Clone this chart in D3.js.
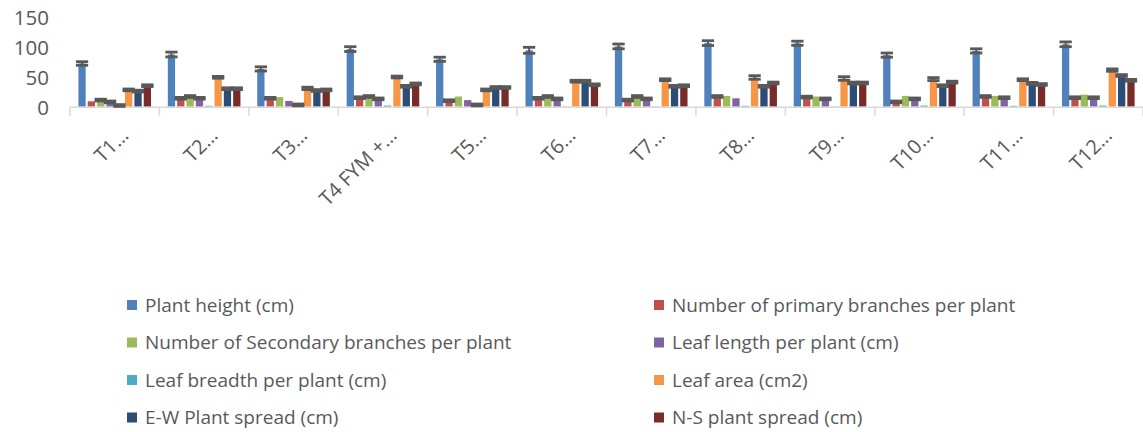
<!DOCTYPE html>
<html>
<head>
<meta charset="utf-8">
<script src="https://cdn.jsdelivr.net/npm/d3@7"></script>
<style>
  html, body { margin: 0; padding: 0; background: #ffffff; }
  svg { display: block; font-family: "Open Sans", "Liberation Sans", sans-serif; }
</style>
</head>
<body>
<svg id="chart" width="1143" height="432"></svg>
<script>
// ---- data ----
const categories = ["T1…", "T2…", "T3…", "T4 FYM +…", "T5…", "T6…", "T7…", "T8…", "T9…", "T10…", "T11…", "T12…"];
const seriesNames = [
  "Plant height (cm)",
  "Number of primary branches per plant",
  "Number of Secondary branches per plant",
  "Leaf length per plant (cm)",
  "Leaf breadth per plant (cm)",
  "Leaf area (cm2)",
  "E-W Plant spread (cm)",
  "N-S plant spread (cm)"
];
const plantHeight      = [72, 87, 63, 96, 79, 94, 100.5, 106, 105.7, 86, 93, 104];
const primaryBranches  = [9, 14, 14, 15, 10, 14, 11, 17, 16, 8, 17, 15];
const secondaryBranches= [11, 17, 16, 17, 17, 17, 17, 18, 17, 18, 18, 20];
const leafLength       = [8, 14, 9.5, 13, 11, 13, 13, 14, 13, 13, 15, 15];
const leafBreadth      = [2, 1.5, 3, 2, 3, 0.5, 0.5, 1.5, 0.5, 2, 1.5, 2];
const leafArea         = [28, 49, 30.5, 49.5, 28, 42.5, 45, 48.7, 47, 46, 45, 61];
const ewSpread         = [26, 30, 27, 34, 32, 42.5, 34, 34, 39.5, 35, 39, 52];
const nsSpread         = [35, 30, 28, 38, 32, 36.5, 35, 39.5, 39.5, 41, 37, 44];

const errPlantHeight   = [3, 4, 3.5, 4, 3.5, 5, 4, 4, 3.5, 3.5, 3.5, 4];
const errPrimary       = [0, 1.5, 1.5, 1.5, 1.5, 1.5, 1.5, 1.5, 1.5, 1.5, 1.5, 1.5];
const errSecondary     = [1.5, 1.5, 0, 1.5, 0, 1.5, 1.5, 0, 0, 0, 0, 0];
const errLeafLength    = [1.5, 1.5, 0, 1.5, 0, 1.5, 1.5, 0, 1.5, 1.5, 1.5, 1.5];
const errLeafBreadth   = [1.5, 0, 1.5, 0, 1.5, 0, 0, 0, 0, 0, 0, 0];
const errLeafArea      = [1.5, 1.5, 2, 1.5, 1.5, 1.5, 1.5, 3, 3, 2.5, 1.5, 2];
const errEW            = [1.5, 1.5, 1.5, 1.5, 1.5, 1.5, 1.5, 1.5, 1.5, 1.5, 1.5, 1.5];
const errNS            = [1.5, 1.5, 1.5, 1.5, 1.5, 1.5, 1.5, 1.5, 1.5, 1.5, 1.5, 1.5];

const yTicks = [0, 50, 100, 150];

const colors = ["#4F81BD", "#C0504D", "#9BBB59", "#8064A2", "#4BACC6", "#F79646", "#2C4D75", "#772C2A"];

const values = [plantHeight, primaryBranches, secondaryBranches, leafLength, leafBreadth, leafArea, ewSpread, nsSpread];
const errors = [errPlantHeight, errPrimary, errSecondary, errLeafLength, errLeafBreadth, errLeafArea, errEW, errNS];

// ---- layout ----
const svg = d3.select("#chart");
const plot = { left: 70, right: 1143, top: 16.7, bottom: 106.7 };

const x0 = d3.scaleBand().domain(categories).range([plot.left, plot.right]).padding(0);
const x1 = d3.scaleBand().domain(d3.range(seriesNames.length))
  .range([0, x0.bandwidth()]).paddingInner(0.22).paddingOuter(0.9);
const y = d3.scaleLinear().domain([0, 150]).range([plot.bottom, plot.top]);

const textColor = "#595959";

// y axis labels (no line)
const yAxis = d3.axisLeft(y).tickValues(yTicks).tickSize(0).tickPadding(0);
const gy = svg.append("g").attr("transform", `translate(49,0)`).call(yAxis);
gy.select(".domain").remove();
gy.selectAll("text").attr("fill", textColor).style("font-size", "20.5px")
  .style("font-family", "'Open Sans', sans-serif").attr("dy", "0.36em");

// bars
const data = [];
categories.forEach((c, ci) => {
  values.forEach((arr, si) => {
    data.push({ c, si, v: arr[ci], e: errors[si][ci] });
  });
});

const gBars = svg.append("g");
gBars.selectAll("rect").data(data).enter().append("rect")
  .attr("x", d => x0(d.c) + x1(d.si))
  .attr("y", d => y(d.v))
  .attr("width", x1.bandwidth())
  .attr("height", d => y(0) - y(d.v))
  .attr("fill", d => colors[d.si]);

// x axis
const xAxis = d3.axisBottom(x0).tickSize(0).tickFormat("");
const gx = svg.append("g").attr("transform", `translate(0,${plot.bottom})`).call(xAxis);
gx.select(".domain").attr("stroke", "#d9d9d9").attr("stroke-width", 1.5);
// category boundary tick marks
const bounds = categories.map(c => x0(c)).concat([x0(categories[categories.length - 1]) + x0.bandwidth()]);
gx.selectAll("line.bnd").data(bounds).enter().append("line").attr("class", "bnd")
  .attr("x1", d => d).attr("x2", d => d).attr("y1", 0).attr("y2", 9)
  .attr("stroke", "#d9d9d9").attr("stroke-width", 1.5);

// error bars
const gErr = svg.append("g");
const errData = data.filter(d => d.e > 0);
const capHalf = x1.bandwidth() / 2 + 2.5;
errData.forEach(d => {
  const cx = x0(d.c) + x1(d.si) + x1.bandwidth() / 2;
  const yTop = y(d.v + d.e), yBot = y(d.v - d.e);
  gErr.append("line").attr("x1", cx).attr("x2", cx).attr("y1", yTop).attr("y2", yBot)
    .attr("stroke", "#595959").attr("stroke-width", 2);
  [yTop, yBot].forEach(yy => {
    gErr.append("line").attr("x1", cx - capHalf).attr("x2", cx + capHalf)
      .attr("y1", yy).attr("y2", yy).attr("stroke", "#595959").attr("stroke-width", 2.8);
  });
});

// category labels rotated -45
svg.append("g").selectAll("text").data(categories).enter().append("text")
  .attr("transform", d => `translate(${x0(d) + x0.bandwidth() / 2 + 15},${plot.bottom + 30}) rotate(-45)`)
  .attr("text-anchor", "end")
  .attr("fill", textColor)
  .style("font-size", "20px")
  .text(d => d);

// legend
const legend = svg.append("g");
const legCols = [127, 654];
const legRow0 = 305, legRowStep = 37.5;
seriesNames.forEach((name, i) => {
  const col = i % 2, row = Math.floor(i / 2);
  const lx = legCols[col], ly = legRow0 + row * legRowStep;
  legend.append("rect").attr("x", lx).attr("y", ly - 5).attr("width", 10).attr("height", 10)
    .attr("fill", colors[i]);
  legend.append("text").attr("x", lx + 18).attr("y", ly).attr("dy", "0.35em")
    .attr("fill", textColor).style("font-size", "19px").text(name);
});
</script>
</body>
</html>
